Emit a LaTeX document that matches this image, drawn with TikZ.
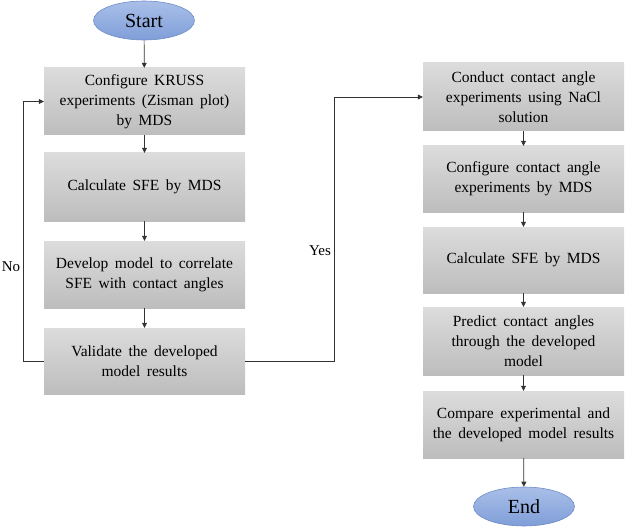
\documentclass[tikz,border=0pt]{standalone}
\usepackage{fontspec}
\setmainfont{Liberation Serif}
\usetikzlibrary{arrows.meta,shapes.geometric}
\definecolor{boxtop}{HTML}{DCDCDC}
\definecolor{boxbot}{HTML}{BDBDBD}
\definecolor{elltop}{HTML}{A9BFE8}
\definecolor{ellbot}{HTML}{7F9ED8}
\definecolor{elldraw}{HTML}{6E8CC8}
\newcommand{\myboxfont}{\fontsize{15.5}{20}\selectfont\spaceskip=0.42em\relax}
\begin{document}
\begin{tikzpicture}[x=1pt,y=-1pt,
  box/.style={draw=none, top color=boxtop, bottom color=boxbot, minimum width=201pt,
    align=center, inner sep=0pt, font=\myboxfont},
  term/.style={ellipse, draw=elldraw, line width=0.6pt, top color=elltop, bottom color=ellbot,
    minimum width=101pt, minimum height=39pt, inner sep=0pt, font=\fontsize{20}{24}\selectfont},
  arr/.style={-{Triangle[length=5pt,width=5pt]}, line width=0.7pt, draw=black!80},
  lbl/.style={font=\fontsize{15}{16}\selectfont}]
\useasboundingbox (0,0) rectangle (625,527);
\node[term] (start) at (144,20.5) {Start};
\node[box, minimum height=67pt] (L1) at (144.5,101.5) {Configure KRUSS\\experiments (Zisman plot)\\by MDS};
\node[box, minimum height=68pt] (L2) at (144.5,187) {Calculate SFE by MDS};
\node[box, minimum height=67pt] (L3) at (144.5,274.5) {Develop model to correlate\\SFE with contact angles};
\node[box, minimum height=66pt] (L4) at (144.5,361) {Validate the developed\\model results};
\node[box, minimum height=68pt] (R1) at (523.5,97) {Conduct contact angle\\experiments using NaCl\\solution};
\node[box, minimum height=66pt] (R2) at (523.5,179) {Configure contact angle\\experiments by MDS};
\node[box, minimum height=66pt] (R3) at (523.5,260) {Calculate SFE by MDS};
\node[box, minimum height=68pt] (R4) at (523.5,341) {Predict contact angles\\through the developed\\model};
\node[box, minimum height=67pt] (R5) at (523.5,424.5) {Compare experimental and\\the developed model results};
\node[term] (end) at (524,506.5) {End};
\draw[arr] (start) -- (L1);
\draw[arr] (L1) -- (L2);
\draw[arr] (L2) -- (L3);
\draw[arr] (L3) -- (L4);
\draw[arr] (R1) -- (R2);
\draw[arr] (R2) -- (R3);
\draw[arr] (R3) -- (R4);
\draw[arr] (R4) -- (R5);
\draw[arr] (R5) -- (end);
\coordinate (nocorner) at (23,361);
\coordinate (yescorner) at (334,361);
\draw[arr] (L4.west) -- (nocorner) |- (L1.west);
\draw[arr] (L4.east) -- (yescorner) |- (R1.west);
\node[lbl] (no) at (11,267) {No};
\node[lbl] (yes) at (320,251) {Yes};
\end{tikzpicture}
\end{document}
